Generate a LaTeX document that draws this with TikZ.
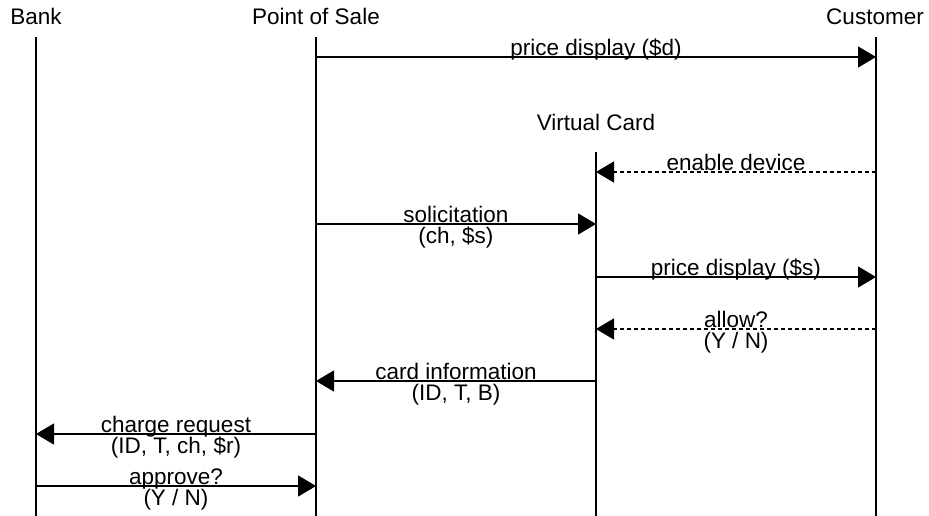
\documentclass[tikz,border=0pt]{standalone}
\usepackage{fontspec}
\setmainfont{Liberation Sans}
\usetikzlibrary{arrows.meta}
\begin{document}
\begin{tikzpicture}[x=1pt, y=-1pt,
    every node/.style={font=\fontsize{22.5}{21.5}\selectfont, inner sep=0pt},
    life/.style={line width=2pt},
    msg/.style={line width=1.5pt, -{Triangle[length=18pt, width=21pt]}},
    reply/.style={msg, dash pattern=on 4pt off 3pt},
    oneline/.style={anchor=base, yshift=1.5pt},
    twoline/.style={align=center, yshift=-3.25pt}]
    \useasboundingbox (0,0) rectangle (929,516);

    % participants
    \node[anchor=base] (bank) at (36,25) {Bank};
    \node[anchor=base] (pos)  at (316,25) {Point of Sale};
    \node[anchor=base] (vc)   at (596,131) {Virtual Card};
    \node[anchor=base] (cus)  at (875,25) {Customer};

    \coordinate (bankT) at (36,37);
    \coordinate (bankB) at (36,516);
    \coordinate (posT)  at (316,37);
    \coordinate (posB)  at (316,516);
    \coordinate (vcT)   at (596,152);
    \coordinate (vcB)   at (596,516);
    \coordinate (cusT)  at (876,37);
    \coordinate (cusB)  at (876,516);

    \draw[life] (bankT) -- (bankB);
    \draw[life] (posT) -- (posB);
    \draw[life] (vcT) -- (vcB);
    \draw[life] (cusT) -- (cusB);

    % message ends
    \coordinate (pos1)  at (316,57);
    \coordinate (cus1)  at (876,57);
    \coordinate (cus2)  at (876,172);
    \coordinate (vc2)   at (596,172);
    \coordinate (pos3)  at (316,224);
    \coordinate (vc3)   at (596,224);
    \coordinate (vc4)   at (596,277);
    \coordinate (cus4)  at (876,277);
    \coordinate (cus5)  at (876,329);
    \coordinate (vc5)   at (596,329);
    \coordinate (vc6)   at (596,381);
    \coordinate (pos6)  at (316,381);
    \coordinate (pos7)  at (316,434);
    \coordinate (bank7) at (36,434);
    \coordinate (bank8) at (36,486);
    \coordinate (pos8)  at (316,486);

    % messages
    \draw[msg] (pos1) -- node[oneline] (m1) {price display (\$d)} (cus1);
    \draw[reply] (cus2) -- node[oneline] (m2) {enable device} (vc2);
    \draw[msg] (pos3) -- node[twoline] (m3) {solicitation\\(ch, \$s)} (vc3);
    \draw[msg] (vc4) -- node[oneline] (m4) {price display (\$s)} (cus4);
    \draw[reply] (cus5) -- node[twoline] (m5) {allow?\\(Y / N)} (vc5);
    \draw[msg] (vc6) -- node[twoline] (m6) {card information\\(ID, T, B)} (pos6);
    \draw[msg] (pos7) -- node[twoline] (m7) {charge request\\(ID, T, ch, \$r)} (bank7);
    \draw[msg] (bank8) -- node[twoline] (m8) {approve?\\(Y / N)} (pos8);
\end{tikzpicture}
\end{document}
